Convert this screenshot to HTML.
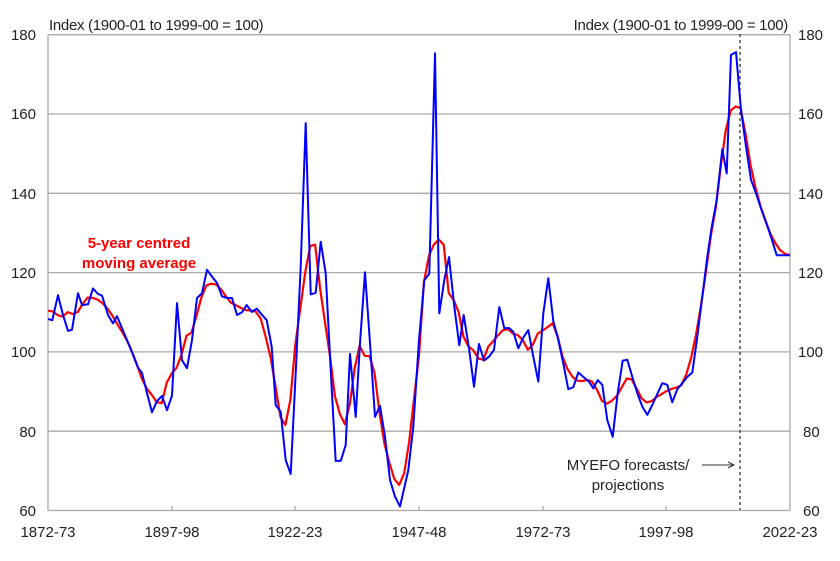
<!DOCTYPE html>
<html><head><meta charset="utf-8"><style>
body{margin:0;background:#fff;}
svg text{font-family:"Liberation Sans",Arial,sans-serif;fill:#222;}
</style></head><body>
<svg id="s" width="840" height="556" viewBox="0 0 840 556" xmlns="http://www.w3.org/2000/svg">
<g stroke="#aaa" stroke-width="1.3">
<line x1="48" y1="34.7" x2="790" y2="34.7"/>
<line x1="48" y1="114" x2="790" y2="114"/>
<line x1="48" y1="193.3" x2="790" y2="193.3"/>
<line x1="48" y1="272.6" x2="790" y2="272.6"/>
<line x1="48" y1="351.9" x2="790" y2="351.9"/>
<line x1="48" y1="431.2" x2="790" y2="431.2"/>
<line x1="48" y1="510.5" x2="790" y2="510.5"/>
<line x1="48" y1="34.7" x2="48" y2="510.5"/>
<line x1="790" y1="34.7" x2="790" y2="510.5"/>
<line x1="172" y1="506" x2="172" y2="510.5"/>
<line x1="295" y1="506" x2="295" y2="510.5"/>
<line x1="419" y1="506" x2="419" y2="510.5"/>
<line x1="543" y1="506" x2="543" y2="510.5"/>
<line x1="666" y1="506" x2="666" y2="510.5"/>
</g>
<line x1="740" y1="34" x2="740" y2="510" stroke="#333" stroke-width="1.3" stroke-dasharray="3,3"/>
<g font-size="15" text-anchor="end">
<text x="36" y="40">180</text><text x="36" y="119">160</text><text x="36" y="199">140</text><text x="36" y="278">120</text><text x="36" y="357">100</text><text x="36" y="437">80</text><text x="36" y="516">60</text>
</g>
<g font-size="15" text-anchor="start">
<text x="798" y="40">180</text><text x="798" y="119">160</text><text x="798" y="199">140</text><text x="798" y="278">120</text><text x="798" y="357">100</text><text x="803" y="437">80</text><text x="803" y="516">60</text>
</g>
<g font-size="15" text-anchor="middle">
<text x="48" y="537">1872-73</text><text x="172" y="537">1897-98</text><text x="295" y="537">1922-23</text><text x="419" y="537">1947-48</text><text x="543" y="537">1972-73</text><text x="666" y="537">1997-98</text><text x="790" y="537">2022-23</text>
</g>
<text x="49" y="30" font-size="15" letter-spacing="-0.3">Index (1900-01 to 1999-00 = 100)</text>
<text x="788" y="30" font-size="15" text-anchor="end" letter-spacing="-0.3">Index (1900-01 to 1999-00 = 100)</text>
<text x="139" y="248" font-size="15" font-weight="bold" text-anchor="middle" style="fill:#f00">5-year centred</text>
<text x="139" y="268" font-size="15" font-weight="bold" text-anchor="middle" style="fill:#f00">moving average</text>
<text x="628" y="470" font-size="15" text-anchor="middle">MYEFO forecasts/</text>
<text x="628" y="490" font-size="15" text-anchor="middle">projections</text>
<line x1="702" y1="465" x2="733" y2="465" stroke="#333" stroke-width="1"/>
<path d="M728,462 L734,465 L728,468" fill="none" stroke="#333" stroke-width="1"/>
<polyline id="red" fill="none" stroke="#f00" stroke-width="2.2" stroke-linejoin="round"/>
<polyline id="blue" fill="none" stroke="#00f" stroke-width="2" stroke-linejoin="round"/>
</svg>
<script>
var P=[[48,108.3],[52.3,108],[58,114.3],[63,109.3],[68,105.3],[72,105.6],[78,114.8],[82,111.8],[88,112],[93,116],[98,114.6],[102,114.2],[108,109.3],[113,107.2],[117,109],[122,106],[127,103],[130,101.2],[138,96],[142,94.7],[147,89.6],[152,84.8],[157,87.6],[162,88.9],[167,85.3],[172,89],[177,112.3],[182,97.9],[187,95.9],[192,103],[197,113.6],[202,114.8],[207,120.7],[212,119],[217,117.4],[222,114],[227,113.6],[232,113.6],[237,109.3],[242,110],
[246.7,111.8],[251.7,110.1],[256.7,110.9],[266.7,108],[271.7,101.3],[275.7,86.6],[280.7,84.9],[285.7,72.7],[290.7,69.2],[295.7,94.7],[300.7,121.5],[305.7,157.7],[310.7,114.5],[315.7,114.9],[320.7,127.8],[325.7,119.8],[330.7,95.4],[335.7,72.5],[340.7,72.5],[345.7,76.5],[350,99.5],[355.7,83.6],[360,102.2],[365,120.1],[370,102.2],[375,83.6],[380,86.4],[385,78.6],[390,67.7],[395,63.5],[400,61],
[408.3,70.2],[413.3,81.1],[419,103],[424.3,118.1],[429.3,119.7],[435,175.3],[439.3,109.7],[444.3,118.1],[449,123.9],[454.3,111.4],[459.3,101.7],[463.7,109.3],[469,100.9],[474,91.2],[479,102],[484,97.8],[489,98.8],[494,100.5],[499.3,111.3],[504.3,106],[509.3,106],[513.3,105.1],[518.3,100.9],[523.3,103.6],[528.3,105.5],[533.3,98.8],[538.3,92.5],[543.3,109.7],[548.3,118.6],[553.3,107.8],[558.3,103],[563.3,97.1],[568.3,90.6],[573.3,91.1],[578.3,94.8],[583.3,93.7],[589,92.5],[593.3,90.8],[597.7,92.9],[602.3,91.7],[607.3,82.8],[612.7,78.6],[617.7,89.6],[622.7,97.8],[627.3,98],[632.3,93.7],[637.3,89.6],[642.3,86.2],[647.3,84.1],[652.3,86.6],[657.3,89.4],[662.3,92.1],[667.3,91.7],[672.3,87.3],[677.3,90.6],[682.3,92.1],[687.3,93.7],[692.3,94.8],[697.3,103.8],[702.3,113.9],[707.3,124],[711.7,131.5],[716.7,138.3],[722.3,151.1],[726.7,145],[731,174.9],[736,175.6],[741,161],[746,151.8],[751,143.4],[756,140],[761,136.2],[766,132.8],[771,129],[776.7,124.4],[783.3,124.4],[790,124.4]];
function Y(v){return 34.7+(180-v)*3.965;}
document.getElementById('blue').setAttribute('points',P.map(function(p){return p[0]+','+Y(p[1]).toFixed(1)}).join(' '));
function interp(x){for(var k=0;k<P.length-1;k++){if(x<=P[k+1][0]){var t=(x-P[k][0])/(P[k+1][0]-P[k][0]);return P[k][1]+t*(P[k+1][1]-P[k][1]);}}return P[P.length-1][1];}
var N=151,dx=742/150,v=[];for(var i=0;i<N;i++)v.push(interp(48+i*dx));
var r=[];for(var i=0;i<N;i++){var s=0,c=0;for(var j=i-2;j<=i+2;j++){if(j>=0&&j<N){s+=v[j];c++;}}r.push((48+i*dx).toFixed(1)+','+Y(s/c).toFixed(1));}
document.getElementById('red').setAttribute('points',r.join(' '));
</script>
</body></html>
